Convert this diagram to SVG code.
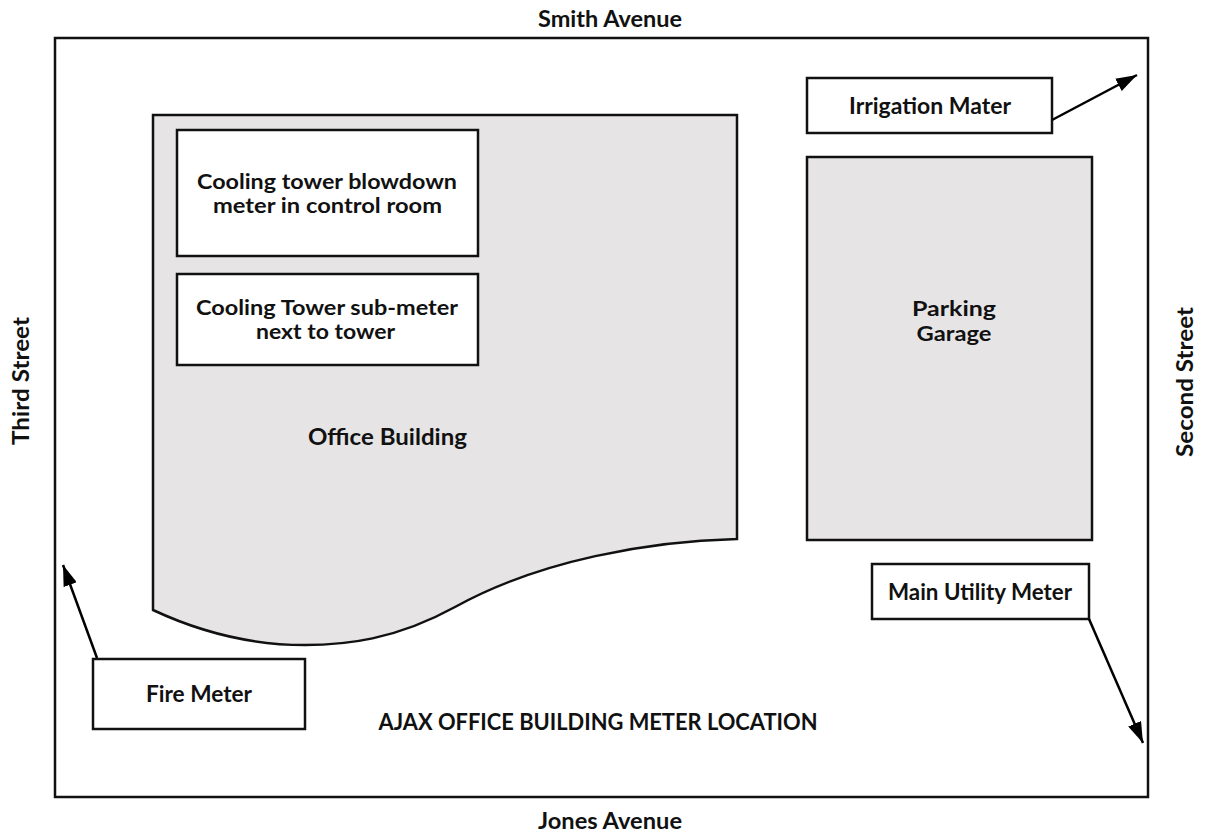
<svg xmlns="http://www.w3.org/2000/svg" width="1209" height="833" viewBox="0 0 1209 833">
<defs>
<marker id="ah" markerWidth="21" markerHeight="14" refX="21" refY="7" orient="auto" markerUnits="userSpaceOnUse">
<path d="M0,0 L21,7 L0,14 Z" fill="#000"/>
</marker>
</defs>
<style>
text{font-family:Lato,"Liberation Sans",sans-serif;font-weight:700;font-size:23px;fill:#111;text-anchor:middle}
text.two{font-size:20px}
.box{fill:#fff;stroke:#111;stroke-width:2.5}
.bld{fill:#e6e4e5;stroke:#111;stroke-width:2.5}
.con{stroke:#000;stroke-width:2.5;fill:none}
</style>
<rect width="1209" height="833" fill="#fff"/>
<g id="site">
<rect x="55" y="38" width="1093" height="759" fill="none" stroke="#111" stroke-width="2.5"/>
<text x="610" y="27" textLength="144" lengthAdjust="spacingAndGlyphs">Smith Avenue</text>
<text x="610" y="829" textLength="144" lengthAdjust="spacingAndGlyphs">Jones Avenue</text>
<text transform="translate(29,381) rotate(-90)" textLength="128" lengthAdjust="spacingAndGlyphs">Third Street</text>
<text transform="translate(1193,382) rotate(-90)" textLength="150" lengthAdjust="spacingAndGlyphs">Second Street</text>
<text x="598" y="730" textLength="439" lengthAdjust="spacingAndGlyphs">AJAX OFFICE BUILDING METER LOCATION</text>
</g>
<g id="office-building">
<path class="bld" d="M153,115 H737 V539 C650,541 540,560 455,607 C395,640 345,645 305,645 C250,645 200,632 153,610 Z"/>
<text x="387.5" y="445" textLength="159" lengthAdjust="spacingAndGlyphs">Office Building</text>
</g>
<g id="blowdown-meter">
<rect class="box" x="177" y="130" width="301" height="126"/>
<text class="two" x="327" y="189" textLength="260" lengthAdjust="spacingAndGlyphs">Cooling tower blowdown</text>
<text class="two" x="327.5" y="213" textLength="229" lengthAdjust="spacingAndGlyphs">meter in control room</text>
</g>
<g id="sub-meter">
<rect class="box" x="177" y="274" width="301" height="91"/>
<text class="two" x="327" y="315" textLength="262" lengthAdjust="spacingAndGlyphs">Cooling Tower sub-meter</text>
<text class="two" x="325.5" y="339" textLength="139" lengthAdjust="spacingAndGlyphs">next to tower</text>
</g>
<g id="parking-garage">
<rect class="bld" x="807" y="157" width="285" height="383"/>
<text class="two" x="954" y="316" textLength="84" lengthAdjust="spacingAndGlyphs">Parking</text>
<text class="two" x="954" y="341" textLength="75" lengthAdjust="spacingAndGlyphs">Garage</text>
</g>
<g id="irrigation-meter">
<rect class="box" x="807" y="78" width="245" height="55"/>
<text x="930" y="114" textLength="162" lengthAdjust="spacingAndGlyphs">Irrigation Mater</text>
</g>
<g id="main-utility-meter">
<rect class="box" x="872" y="564" width="217" height="55"/>
<text x="980" y="600" textLength="184" lengthAdjust="spacingAndGlyphs">Main Utility Meter</text>
</g>
<g id="fire-meter">
<rect class="box" x="93" y="659" width="212" height="70"/>
<text x="199" y="702" textLength="106" lengthAdjust="spacingAndGlyphs">Fire Meter</text>
</g>
<g id="connectors">
<line class="con" x1="1052" y1="120" x2="1137" y2="75" marker-end="url(#ah)"/>
<line class="con" x1="1089" y1="619" x2="1143" y2="743" marker-end="url(#ah)"/>
<line class="con" x1="97" y1="658" x2="63" y2="565" marker-end="url(#ah)"/>
</g>
</svg>
